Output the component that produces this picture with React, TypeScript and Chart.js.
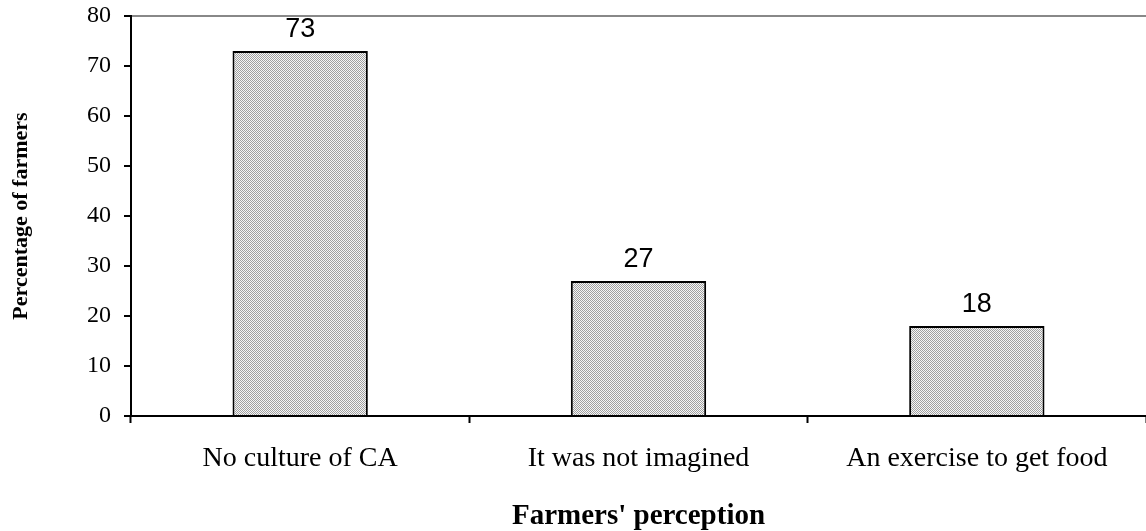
import React, { useEffect, useRef } from "react";
import { Chart, registerables } from "chart.js";

Chart.register(...registerables);

// Survey results: share of farmers by perception
const categories = ["No culture of CA", "It was not imagined", "An exercise to get food"];
const percentages = [73, 27, 18];
const yTicks = [0, 10, 20, 30, 40, 50, 60, 70, 80];
const xTitle = "Farmers' perception";
const yTitle = "Percentage of farmers";

const SERIF = "'Liberation Serif', 'Times New Roman', serif";
const SANS = "'Liberation Sans', Arial, sans-serif";

// Fine 1px checker used as the bar fill (dotted gray hatch)
function makeCheckerPattern(ctx: CanvasRenderingContext2D): CanvasPattern | string {
  const tile = document.createElement("canvas");
  tile.width = 2;
  tile.height = 2;
  const t = tile.getContext("2d");
  if (!t) return "#c8c8c8";
  t.fillStyle = "#f6f6f6";
  t.fillRect(0, 0, 2, 2);
  t.fillStyle = "#a0a0a0";
  t.fillRect(0, 0, 1, 1);
  t.fillRect(1, 1, 1, 1);
  return ctx.createPattern(tile, "repeat") || "#c8c8c8";
}

// Writes each bar's value centred above it
const valueLabels = {
  id: "valueLabels",
  afterDatasetsDraw(chart: any) {
    const ctx = chart.ctx;
    const meta = chart.getDatasetMeta(0);
    const data = chart.data.datasets[0].data as number[];
    ctx.save();
    ctx.font = `27px ${SANS}`;
    ctx.fillStyle = "#000";
    ctx.textAlign = "center";
    ctx.textBaseline = "alphabetic";
    meta.data.forEach((bar: any, i: number) => {
      ctx.fillText(String(data[i]), bar.x, bar.y - 14);
    });
    ctx.restore();
  },
};

export default function App() {
  const canvasRef = useRef<HTMLCanvasElement>(null);

  useEffect(() => {
    const canvas = canvasRef.current;
    if (!canvas) return;
    const ctx = canvas.getContext("2d");
    if (!ctx) return;
    const fill = makeCheckerPattern(ctx);

    const chart = new Chart(ctx, {
      type: "bar",
      data: {
        labels: categories,
        datasets: [
          {
            data: percentages,
            backgroundColor: fill as any,
            borderColor: "#000",
            borderWidth: 2,
            borderSkipped: "start",
            barPercentage: 0.4,
            categoryPercentage: 1,
          },
        ],
      },
      options: {
        responsive: false,
        animation: false,
        events: [],
        layout: { padding: { top: 16, right: 0, left: 0, bottom: 0 } },
        plugins: {
          legend: { display: false },
          tooltip: { enabled: false },
        },
        scales: {
          x: {
            offset: true,
            afterFit(scale: any) {
              scale.height = 115;
              scale.paddingLeft = 0;
              scale.paddingRight = 0;
            },
            grid: {
              offset: true,
              color: "rgba(0,0,0,0)",
              drawTicks: true,
              tickColor: "#000",
              tickLength: 7,
              tickWidth: 2,
            },
            border: { display: true, color: "#000", width: 2 },
            ticks: {
              color: "#000",
              font: { family: SERIF, size: 28 },
              padding: 19,
              maxRotation: 0,
            },
            title: {
              display: true,
              text: xTitle,
              color: "#000",
              font: { family: SERIF, size: 29, weight: "bold", lineHeight: 1 },
              padding: { top: 0, bottom: 0 },
            },
          },
          y: {
            min: 0,
            max: 80,
            afterFit(scale: any) {
              scale.width = 131;
              scale.paddingTop = 0;
              scale.paddingBottom = 0;
            },
            afterBuildTicks(scale: any) {
              scale.ticks = yTicks.map((v) => ({ value: v }));
            },
            grid: {
              color: (c: any) => (c.tick && c.tick.value === 80 ? "#888888" : "rgba(0,0,0,0)"),
              lineWidth: 2,
              drawTicks: true,
              tickColor: "#000",
              tickLength: 7,
              tickWidth: 2,
            },
            border: { display: true, color: "#000", width: 2 },
            ticks: {
              color: "#000",
              font: { family: SERIF, size: 24 },
              padding: 13,
            },
            title: {
              display: true,
              text: yTitle,
              color: "#000",
              font: { family: SERIF, size: 22, weight: "bold" },
              padding: { top: 8, bottom: 0 },
            },
          },
        },
      },
      plugins: [valueLabels],
    });

    return () => chart.destroy();
  }, []);

  return (
    <div style={{ position: "absolute", left: 0, top: 0, width: 1146, height: 531, background: "#fff" }}>
      <canvas ref={canvasRef} width={1146} height={531} style={{ display: "block" }} />
    </div>
  );
}
